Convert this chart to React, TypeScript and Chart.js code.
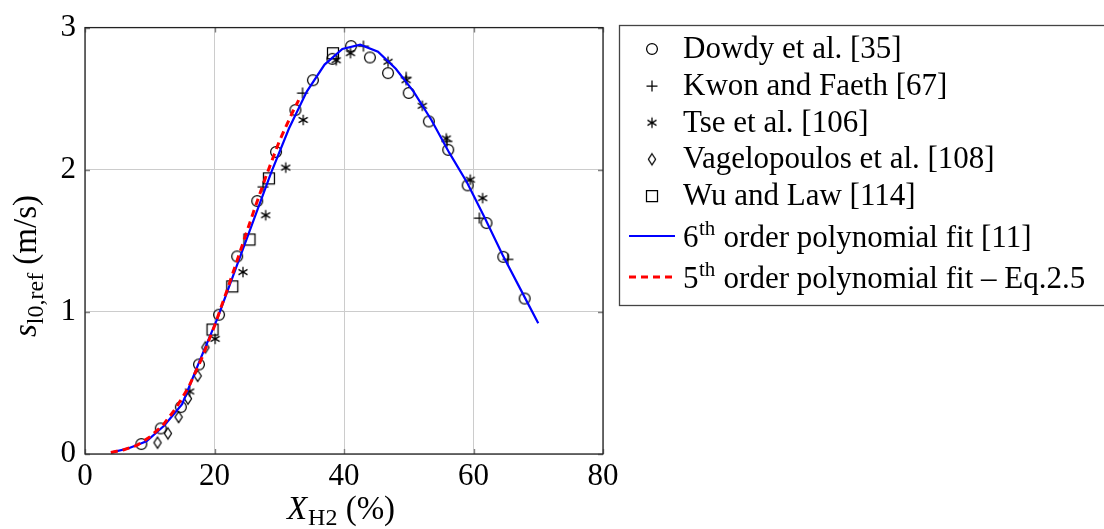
import React, { useEffect, useRef } from "react";
import { Chart, registerables } from "chart.js";
Chart.register(...registerables);

// ---- Data ----
const dowdyX = [8.7, 11.7, 14.8, 17.6, 20.7, 23.5, 26.6, 29.5, 32.5, 35.2, 38.2, 41.1, 44.0, 46.8, 50.0, 53.1, 56.1, 59.1, 62.0, 64.6, 67.9];
const dowdyY = [0.07, 0.18, 0.33, 0.63, 0.98, 1.39, 1.78, 2.125, 2.42, 2.63, 2.78, 2.87, 2.79, 2.68, 2.54, 2.34, 2.14, 1.89, 1.625, 1.387, 1.094];

const kwonX = [27.5, 33.6, 43.0, 49.6, 55.9, 60.9, 65.3];
const kwonY = [1.88, 2.54, 2.87, 2.65, 2.2, 1.66, 1.37];

const tseX = [16.15, 20.1, 24.4, 27.9, 31.0, 33.7, 38.8, 41.0, 46.8, 49.6, 52.1, 55.8, 59.5, 61.4];
const tseY = [0.44, 0.81, 1.28, 1.68, 2.015, 2.35, 2.77, 2.82, 2.76, 2.63, 2.45, 2.22, 1.93, 1.8];

const vagX = [11.2, 12.8, 14.45, 15.9, 17.4, 18.6];
const vagY = [0.08, 0.145, 0.26, 0.39, 0.55, 0.75];

const wuX = [19.7, 22.75, 25.4, 28.4, 38.3];
const wuY = [0.876, 1.18, 1.51, 1.94, 2.82];

const fit6X = [4, 6.75, 9.5, 12.25, 15, 17.75, 20.5, 23.25, 26, 28.75, 31.5, 34.25, 37, 39.75, 42.5, 45.25, 48, 50.75, 53.5, 56.25, 59, 61.75, 64.5, 67.25, 70];
const fit6Y = [0.01, 0.04, 0.09, 0.2, 0.35, 0.66, 0.96, 1.3, 1.64, 1.98, 2.29, 2.55, 2.74, 2.85, 2.88, 2.83, 2.71, 2.55, 2.35, 2.12, 1.91, 1.66, 1.4, 1.16, 0.92];

const fit5X = [4, 6, 8, 10, 12, 14, 16, 18, 20, 22, 24, 26, 28, 30, 32, 33];
const fit5Y = [0.01, 0.03, 0.06, 0.12, 0.2, 0.32, 0.47, 0.67, 0.9, 1.16, 1.43, 1.7, 1.96, 2.2, 2.4, 2.49];

const xTicks = [0, 20, 40, 60, 80];
const yTicks = [0, 1, 2, 3];

const legendLabels = [
  "Dowdy et al. [35]",
  "Kwon and Faeth [67]",
  "Tse et al. [106]",
  "Vagelopoulos et al. [108]",
  "Wu and Law [114]",
];

const FONT = '"Liberation Serif", "Times New Roman", serif';
const FS = 31;
const SUBFS = 21;
const TFS = 33;
const TSUBFS = 24;

function makeMarker(kind: string): HTMLCanvasElement {
  const c = document.createElement("canvas");
  c.width = 16;
  c.height = 16;
  const g = c.getContext("2d")!;
  g.strokeStyle = "#000";
  g.lineWidth = 1.25;
  const m = 8;
  g.beginPath();
  if (kind === "circle") {
    g.arc(m, m, 5.4, 0, Math.PI * 2);
  } else if (kind === "plus") {
    g.moveTo(m - 5.5, m);
    g.lineTo(m + 5.5, m);
    g.moveTo(m, m - 5.5);
    g.lineTo(m, m + 5.5);
  } else if (kind === "star") {
    for (const a of [90, 30, 150]) {
      const r = (a * Math.PI) / 180;
      g.moveTo(m - 5.2 * Math.cos(r), m - 5.2 * Math.sin(r));
      g.lineTo(m + 5.2 * Math.cos(r), m + 5.2 * Math.sin(r));
    }
  } else if (kind === "diamond") {
    g.moveTo(m, m - 5.5);
    g.lineTo(m + 3.6, m);
    g.lineTo(m, m + 5.5);
    g.lineTo(m - 3.6, m);
    g.closePath();
  } else if (kind === "square") {
    g.rect(m - 5.5, m - 5.5, 11, 11);
  }
  g.stroke();
  return c;
}

function pts(xs: number[], ys: number[]) {
  return xs.map((x, i) => ({ x, y: ys[i] }));
}

export default function App() {
  const ref = useRef<HTMLCanvasElement>(null);

  useEffect(() => {
    const canvas = ref.current!;
    const markers = {
      circle: makeMarker("circle"),
      plus: makeMarker("plus"),
      star: makeMarker("star"),
      diamond: makeMarker("diamond"),
      square: makeMarker("square"),
    };
    const markerOrder = [markers.circle, markers.plus, markers.star, markers.diamond, markers.square];

    const overlay = {
      id: "overlay",
      afterDraw(chart: any) {
        const ctx: CanvasRenderingContext2D = chart.ctx;
        const { left, right, top, bottom } = chart.chartArea;
        const xs = chart.scales.x;
        const ys = chart.scales.y;
        ctx.save();
        // inward tick marks
        ctx.strokeStyle = "#808080";
        ctx.lineWidth = 1.4;
        ctx.beginPath();
        for (const v of xTicks) {
          const px = Math.round(xs.getPixelForValue(v)) + 0.5;
          ctx.moveTo(px, bottom);
          ctx.lineTo(px, bottom - 5);
          ctx.moveTo(px, top);
          ctx.lineTo(px, top + 5);
        }
        for (const v of yTicks) {
          const py = Math.round(ys.getPixelForValue(v)) + 0.5;
          ctx.moveTo(left, py);
          ctx.lineTo(left + 5, py);
          ctx.moveTo(right, py);
          ctx.lineTo(right - 5, py);
        }
        ctx.stroke();
        // frame
        ctx.strokeStyle = "#222";
        ctx.lineWidth = 1.3;
        ctx.strokeRect(left, top, right - left, bottom - top);

        ctx.fillStyle = "#000";
        ctx.textBaseline = "alphabetic";
        ctx.textAlign = "left";

        // x title: X_H2 (%)
        {
          const fMain = `italic ${TFS}px ${FONT}`;
          const fSub = `${TSUBFS}px ${FONT}`;
          const fUp = `${TFS}px ${FONT}`;
          ctx.font = fMain;
          const w1 = ctx.measureText("X").width;
          ctx.font = fSub;
          const w2 = ctx.measureText("H2").width;
          ctx.font = fUp;
          const w3 = ctx.measureText(" (%)").width;
          const total = w1 + w2 + w3 + 1;
          let x0 = 341 - total / 2;
          const by = 519;
          ctx.font = fMain;
          ctx.fillText("X", x0, by);
          x0 += w1 + 1;
          ctx.font = fSub;
          ctx.fillText("H2", x0, by + 6);
          x0 += w2;
          ctx.font = fUp;
          ctx.fillText(" (%)", x0, by);
        }
        // y title: s_l0,ref (m/s)
        {
          ctx.save();
          ctx.translate(36, 266);
          ctx.rotate(-Math.PI / 2);
          const fMain = `italic ${TFS}px ${FONT}`;
          const fSub = `${TSUBFS}px ${FONT}`;
          const fUp = `${TFS}px ${FONT}`;
          ctx.font = fMain;
          const w1 = ctx.measureText("s").width;
          ctx.font = fSub;
          const w2 = ctx.measureText("l0,ref").width;
          ctx.font = fUp;
          const w3 = ctx.measureText(" (m/s)").width;
          const total = w1 + w2 + w3;
          let x0 = -total / 2;
          ctx.font = fMain;
          ctx.fillText("s", x0, 0);
          x0 += w1;
          ctx.font = fSub;
          ctx.fillText("l0,ref", x0, 7);
          x0 += w2;
          ctx.font = fUp;
          ctx.fillText(" (m/s)", x0, 0);
          ctx.restore();
        }

        // legend
        ctx.fillStyle = "#fff";
        ctx.fillRect(619.5, 25.5, 600, 280);
        ctx.strokeStyle = "#444";
        ctx.lineWidth = 1.3;
        ctx.strokeRect(619.5, 25.5, 600, 280);
        ctx.fillStyle = "#000";
        const rowY = [49, 86, 122.7, 159.3, 196];
        const tx = 683;
        rowY.forEach((y, i) => {
          ctx.drawImage(markerOrder[i], 652 - 8, y - 8);
          ctx.font = `${FS}px ${FONT}`;
          ctx.fillText(legendLabels[i], tx, y + 9);
        });
        const lineRows = [
          { y: 236, color: "#0000ff", dash: [] as number[], w: 2.2, num: "6", rest: " order polynomial fit [11]" },
          { y: 277, color: "#ff0000", dash: [7, 5], w: 3, num: "5", rest: " order polynomial fit \u2013 Eq.2.5" },
        ];
        for (const r of lineRows) {
          ctx.save();
          ctx.strokeStyle = r.color;
          ctx.lineWidth = r.w;
          ctx.setLineDash(r.dash);
          ctx.beginPath();
          ctx.moveTo(629, r.y);
          ctx.lineTo(675, r.y);
          ctx.stroke();
          ctx.restore();
          const by = r.y + 11;
          let x0 = tx;
          ctx.font = `${FS}px ${FONT}`;
          ctx.fillText(r.num, x0, by);
          x0 += ctx.measureText(r.num).width;
          ctx.font = `${SUBFS}px ${FONT}`;
          ctx.fillText("th", x0 + 0.5, by - 12);
          x0 += ctx.measureText("th").width + 1;
          ctx.font = `${FS}px ${FONT}`;
          ctx.fillText(r.rest, x0, by);
        }
        ctx.restore();
      },
    };

    const chart = new Chart(canvas, {
      type: "scatter",
      data: {
        datasets: [
          { label: "Dowdy", data: pts(dowdyX, dowdyY), pointStyle: markers.circle as any, order: 2, showLine: false },
          { label: "Kwon", data: pts(kwonX, kwonY), pointStyle: markers.plus as any, order: 3, showLine: false },
          { label: "Tse", data: pts(tseX, tseY), pointStyle: markers.star as any, order: 4, showLine: false },
          { label: "Vag", data: pts(vagX, vagY), pointStyle: markers.diamond as any, order: 5, showLine: false },
          { label: "Wu", data: pts(wuX, wuY), pointStyle: markers.square as any, order: 6, showLine: false },
          {
            label: "fit6",
            data: pts(fit6X, fit6Y),
            showLine: true,
            borderColor: "#0000ff",
            borderWidth: 2.2,
            pointRadius: 0,
            tension: 0,
            order: 1,
          },
          {
            label: "fit5",
            data: pts(fit5X, fit5Y),
            showLine: true,
            borderColor: "#ff0000",
            borderWidth: 3,
            borderDash: [7, 5],
            pointRadius: 0,
            tension: 0,
            order: 0,
          },
        ],
      },
      options: {
        responsive: false,
        animation: false,
        devicePixelRatio: 1,
        layout: { padding: { left: 0, top: 27, right: 501, bottom: 0 } },
        plugins: { legend: { display: false }, tooltip: { enabled: false } },
        scales: {
          x: {
            type: "linear",
            min: 0,
            max: 80,
            afterBuildTicks: (s: any) => {
              s.ticks = xTicks.map((v) => ({ value: v }));
            },
            afterFit: (s: any) => {
              s.height = 75;
            },
            ticks: { color: "#000", font: { family: FONT, size: FS }, padding: 4, maxRotation: 0 },
            grid: { color: "#cccccc", lineWidth: 1, drawTicks: false },
            border: { display: false },
          },
          y: {
            type: "linear",
            min: 0,
            max: 3,
            afterBuildTicks: (s: any) => {
              s.ticks = yTicks.map((v) => ({ value: v }));
            },
            afterFit: (s: any) => {
              s.width = 85;
            },
            ticks: { color: "#000", font: { family: FONT, size: FS }, padding: 9 },
            grid: { color: "#cccccc", lineWidth: 1, drawTicks: false },
            border: { display: false },
          },
        },
      },
      plugins: [overlay],
    } as any);
    return () => chart.destroy();
  }, []);

  return (
    <div style={{ position: "absolute", left: 0, top: 0, width: 1104, height: 529, background: "#fff" }}>
      <canvas ref={ref} width={1104} height={529} style={{ display: "block" }} />
    </div>
  );
}
